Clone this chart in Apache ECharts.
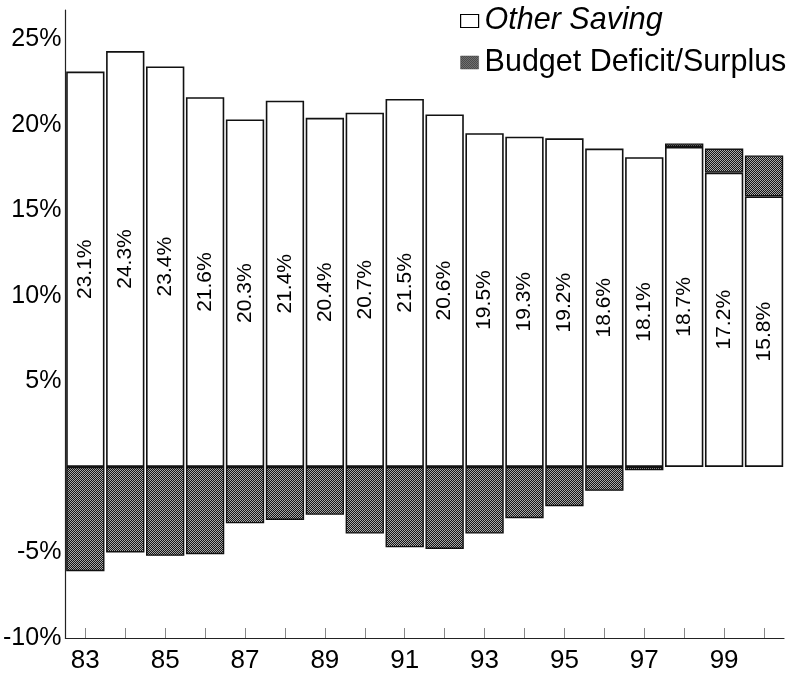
<!DOCTYPE html>
<html>
<head>
<meta charset="utf-8">
<script src="https://cdn.jsdelivr.net/npm/echarts@6/dist/echarts.min.js"></script>
<style>
html,body{margin:0;padding:0;background:#fff;}
#chart{width:788px;height:681px;}
</style>
</head>
<body>
<div id="chart"></div>
<script>
const years = ['83','84','85','86','87','88','89','90','91','92','93','94','95','96','97','98','99','00'];
const otherSaving = [23.1,24.3,23.4,21.6,20.3,21.4,20.4,20.7,21.5,20.6,19.5,19.3,19.2,18.6,18.1,18.7,17.2,15.8];
const budgetBalance = [-6.1,-5.0,-5.2,-5.1,-3.3,-3.1,-2.8,-3.9,-4.7,-4.8,-3.9,-3.0,-2.3,-1.4,-0.2,0.2,1.4,2.4];
const yTicks = [-10,-5,5,10,15,20,25];

// halftone pattern
const pc = document.createElement('canvas');
pc.width = 2; pc.height = 2;
const pctx = pc.getContext('2d');
pctx.fillStyle = '#141414'; pctx.fillRect(0,0,2,2);
pctx.fillStyle = '#a8a8a8'; pctx.fillRect(0,0,1,1); pctx.fillRect(1,1,1,1);
const pattern = {image: pc, repeat: 'repeat'};

const FONT = "'Liberation Sans', Arial, Helvetica, sans-serif";
const chart = echarts.init(document.getElementById('chart'), null, {renderer:'canvas'});
chart.setOption({
  animation: false,
  backgroundColor: '#fff',
  textStyle: {fontFamily: FONT, color: '#000'},
  grid: {left: 64, right: 4, top: 10, bottom: 43, containLabel: false},
  legend: {
    orient: 'vertical',
    left: 455, top: 1,
    icon: 'rect',
    itemWidth: 18, itemHeight: 13, itemGap: 11,
    textStyle: {
      fontFamily: FONT, fontSize: 30.5, color: '#000',
      rich: {
        i: {fontFamily: FONT, fontSize: 30.5, fontStyle: 'italic', color: '#000', padding: [0,0,0,1]},
        n: {fontFamily: FONT, fontSize: 30.5, color: '#000', padding: [0,0,0,1]}
      }
    },
    formatter: n => n === 'Other Saving' ? '{i|' + n + '}' : '{n|' + n + '}',
    data: [
      {name: 'Other Saving', itemStyle: {color: '#fff', borderColor: '#000', borderWidth: 1.2}},
      {name: 'Budget Deficit/Surplus', itemStyle: {color: pattern, borderColor: '#444', borderWidth: 0.5}}
    ]
  },
  xAxis: {
    type: 'category',
    data: years,
    boundaryGap: true,
    axisLine: {onZero: false, lineStyle: {color: '#222', width: 1.2}},
    axisTick: {show: true, inside: true, length: 10, alignWithLabel: true, interval: 0, lineStyle: {color: '#888', width: 1}},
    axisLabel: {interval: 1, fontSize: 26, color: '#000', fontFamily: FONT, margin: 10}
  },
  yAxis: {
    type: 'value',
    min: -10, max: 26.7, interval: 5,
    splitLine: {show: false},
    axisLine: {show: true, lineStyle: {color: '#222', width: 1.2}},
    axisTick: {show: false},
    axisLabel: {
      fontSize: 25, color: '#000', fontFamily: FONT, margin: 4,
      formatter: v => yTicks.indexOf(Math.round(v*1000)/1000) >= 0 ? v + '%' : ''
    }
  },
  series: [
    {
      name: 'Other Saving',
      type: 'bar',
      stack: 'total',
      barWidth: '96%',
      data: otherSaving,
      itemStyle: {color: '#fff', borderColor: '#111', borderWidth: 1.6},
      label: {
        show: true, position: 'inside', rotate: 90,
        fontSize: 21, fontFamily: FONT, color: '#000',
        formatter: p => p.value.toFixed(1) + '%'
      }
    },
    {
      name: 'Budget Deficit/Surplus',
      type: 'bar',
      stack: 'total',
      barWidth: '96%',
      data: budgetBalance,
      itemStyle: {color: pattern, borderColor: '#111', borderWidth: 1.4}
    }
  ]
});
</script>
</body>
</html>
